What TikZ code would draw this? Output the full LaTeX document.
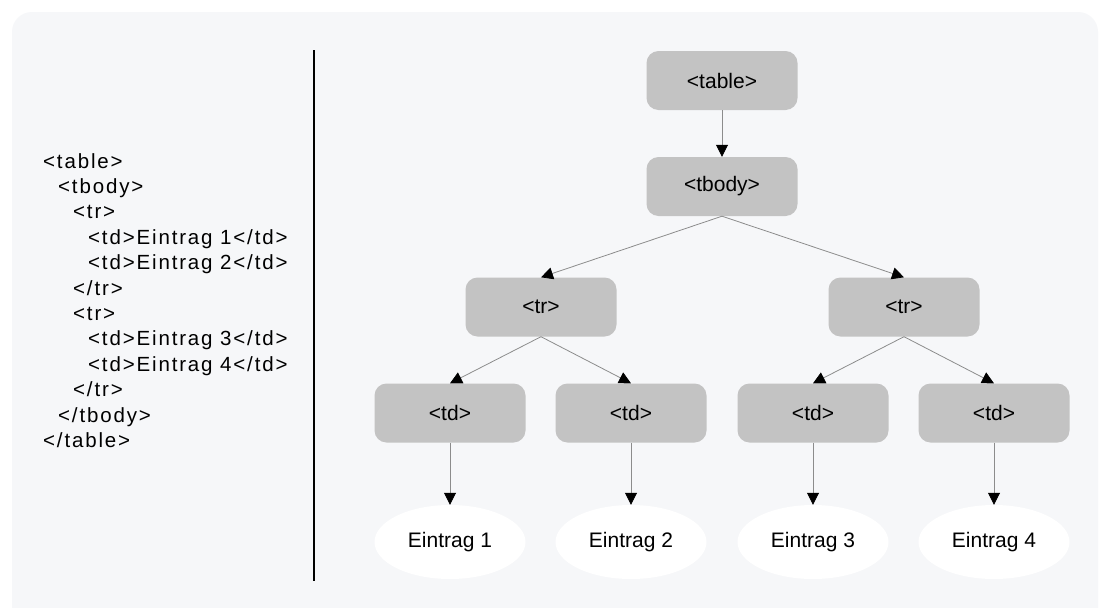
\documentclass[tikz,border=0pt]{standalone}
\usepackage{fontspec}
\setmainfont{Liberation Sans}
\newfontfamily\codefont[LetterSpace=9]{Liberation Sans}
\usetikzlibrary{arrows.meta,shapes.geometric}
\definecolor{panelbg}{HTML}{F6F7F9}
\definecolor{boxfill}{HTML}{C3C3C3}
\definecolor{edgegray}{HTML}{8C8C8C}
\tikzset{
  tagbox/.style={rectangle, rounded corners=12pt, fill=boxfill, minimum width=151pt, minimum height=59pt, inner sep=0pt, font=\fontsize{21}{25}\selectfont},
  leafnode/.style={ellipse, fill=white, minimum width=151pt, minimum height=74pt, inner sep=0pt, font=\fontsize{21}{25}\selectfont},
  edge/.style={draw=edgegray, line width=0.8pt, -{Triangle[length=12pt,width=12pt,color=black]}},
  codeline/.style={anchor=base west, inner sep=0pt, font=\codefont\fontsize{20.5}{24}\selectfont},
}
\begin{document}
\begin{tikzpicture}[x=1pt,y=-1pt]
\useasboundingbox (0,0) rectangle (1101,608);
\fill[white] (0,0) rectangle (1101,608);
\begin{scope}
\clip (0,0) rectangle (1101,608);
\fill[panelbg, rounded corners=20pt] (12,12) rectangle (1098,640);
\end{scope}

% code listing
\node[codeline] (c0)  at (43,168.0) {<table>};
\node[codeline] (c1)  at (58,193.4) {<tbody>};
\node[codeline] (c2)  at (73,218.8) {<tr>};
\node[codeline] (c3)  at (88,244.2) {<td>Eintrag 1</td>};
\node[codeline] (c4)  at (88,269.6) {<td>Eintrag 2</td>};
\node[codeline] (c5)  at (73,295.0) {</tr>};
\node[codeline] (c6)  at (73,320.4) {<tr>};
\node[codeline] (c7)  at (88,345.8) {<td>Eintrag 3</td>};
\node[codeline] (c8)  at (88,371.2) {<td>Eintrag 4</td>};
\node[codeline] (c9)  at (73,396.6) {</tr>};
\node[codeline] (c10) at (58,422.0) {</tbody>};
\node[codeline] (c11) at (43,447.4) {</table>};

% divider
\coordinate (dtop) at (314,50);
\coordinate (dbot) at (314,581);
\draw[black, line width=1.6pt] (dtop) -- (dbot);

% tree
\node[tagbox] (table) at (722,80.5) {<table>};
\node[tagbox] (tbody) at (722,186.5) {<tbody>};
\node[tagbox] (tr1) at (541,307) {<tr>};
\node[tagbox] (tr2) at (904,307) {<tr>};
\node[tagbox] (td1) at (450,413) {<td>};
\node[tagbox] (td2) at (631,413) {<td>};
\node[tagbox] (td3) at (813,413) {<td>};
\node[tagbox] (td4) at (994,413) {<td>};
\node[leafnode] (e1) at (450,542) {Eintrag 1};
\node[leafnode] (e2) at (631,542) {Eintrag 2};
\node[leafnode] (e3) at (813,542) {Eintrag 3};
\node[leafnode] (e4) at (994,542) {Eintrag 4};

\draw[edge] (table.south) -- (tbody.north);
\draw[edge] (tbody.south) -- (tr1.north);
\draw[edge] (tbody.south) -- (tr2.north);
\draw[edge] (tr1.south) -- (td1.north);
\draw[edge] (tr1.south) -- (td2.north);
\draw[edge] (tr2.south) -- (td3.north);
\draw[edge] (tr2.south) -- (td4.north);
\draw[edge] (td1.south) -- (e1.north);
\draw[edge] (td2.south) -- (e2.north);
\draw[edge] (td3.south) -- (e3.north);
\draw[edge] (td4.south) -- (e4.north);
\end{tikzpicture}
\end{document}
